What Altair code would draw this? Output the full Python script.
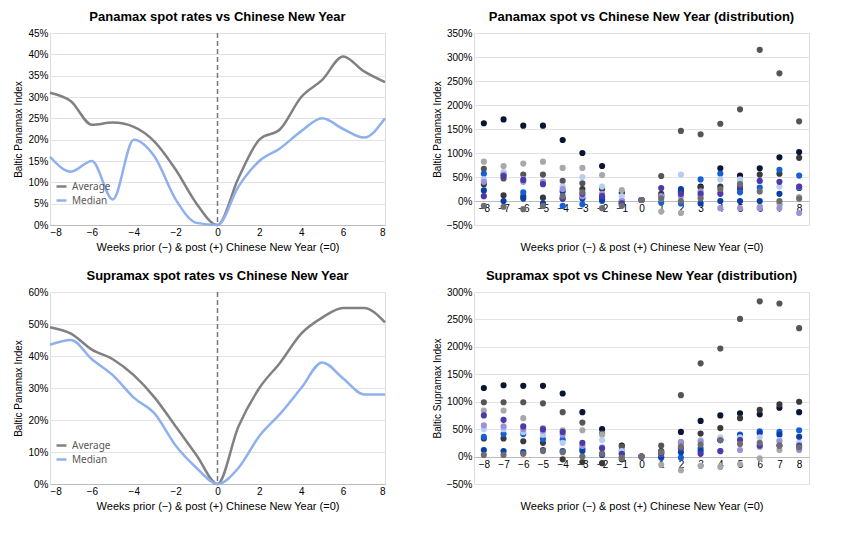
import pandas as pd
import altair as alt

weeks = list(range(-8, 9))

# line charts (percent)
pmx_avg = [31, 29, 23.5, 24, 23, 19.5, 13, 5, 0, 11, 20, 22.5, 30, 34, 39.5, 36, 33.5]
pmx_med = [16, 12.5, 15, 6, 20, 16, 6, 0.5, 0, 9, 15, 18, 22, 25, 22.5, 20.5, 25]
smx_avg = [49, 47, 42, 39, 34, 27, 18, 9, 0, 18, 30, 38, 47, 52, 55, 55, 50.5]
smx_med = [43.5, 45, 39, 34, 27, 22, 12, 5, 0, 5, 15, 22, 30, 38, 33, 28, 28]

# distribution series (percent), one list per year
series_names = ["Y1", "Y2", "Y3", "Y4", "Y5", "Y6", "Y7", "Y8", "Y9", "Y10"]
series_colors = ["#0a1433", "#555559", "#3a3a3d", "#a8a8aa", "#1560d6",
                 "#0b3fa8", "#b8cdf2", "#9b93d6", "#4b3aa8", "#6e6e72"]
pmx_dist = [
    [162, 170, 157, 157, 127, 100, 73, 17, 2, 10, 18, 30, 68, 53, 68, 91, 102],
    [67, 47, 55, 55, 42, 37, 8, -4, 2, 52, 146, 139, 161, 191, 315, 266, 166],
    [35, 12, 10, 7, 5, 25, 25, 0, 2, 15, 20, 28, 30, 25, 55, 57, 90],
    [82, 73, 78, 82, 69, 69, 54, 23, 2, -22, -25, 10, 20, 40, -12, -5, 8],
    [57, 55, 18, -10, -10, -7, 0, -8, 2, -3, -5, 45, 57, 18, 28, 65, 53],
    [22, 0, 5, -5, 20, 5, 3, -5, 2, 10, 25, -5, 0, 0, 0, 15, 27],
    [45, 60, 45, 40, 30, 50, 30, 10, 2, 5, 55, 10, 45, 45, 40, 30, 30],
    [40, 55, 40, 40, 25, 10, 15, 0, 2, 10, 10, 20, -15, -15, -15, -15, -25],
    [10, 52, 44, 35, 5, 15, 10, -5, 2, 27, 15, 15, 15, 30, 42, 40, 30],
    [-10, -12, -17, -10, 10, 18, -15, -10, 2, 5, 0, 5, 25, 35, 20, 0, 5],
]
smx_dist = [
    [125, 130, 129, 129, 115, 81, 50, 20, 0, 8, 45, 65, 75, 79, 77, 89, 81],
    [99, 99, 99, 97, 81, 62, 42, 18, 0, 20, 112, 170, 197, 251, 283, 279, 234],
    [33, 33, 28, 25, -5, -10, -12, -5, 0, 10, 25, 42, 52, 70, 85, 95, 100],
    [84, 84, 70, 52, 48, 48, 40, -2, 0, -15, -25, -17, -19, -14, -3, 12, 15],
    [36, 41, 41, 32, 31, 14, 5, 5, 0, -2, -2, 15, 30, 40, 46, 45, 48],
    [12, 10, 8, 12, 10, 10, 3, 10, 0, 0, 8, 10, 30, 38, 43, 40, 36],
    [50, 50, 45, 40, 25, 20, 30, 10, 0, 5, 20, 30, 35, 35, 35, 30, 25],
    [57, 55, 50, 47, 40, 20, 17, 0, 0, 5, 27, 28, 10, 12, 18, 28, 12],
    [75, 67, 55, 50, 45, 25, 15, 5, 0, 5, 15, 5, 10, 30, 20, 20, 20],
    [3, 3, 5, 10, 8, 0, 5, -2, 0, 8, 18, 22, 30, 23, 25, 20, 17],
]

W, H = 335, 192
TITLE = "#0d1b45"
GREY = "#595959"
FONT = "Noto Sans"
xtitle = "Weeks prior (\u2212) & post (+) Chinese New Year (=0)"


def line_panel(title, avg, med, ymax, step, ylabel):
    df = pd.DataFrame({
        "week": weeks * 2,
        "value": [v / 100 for v in avg + med],
        "series": ["Average"] * 17 + ["Median"] * 17,
    })
    lines = alt.Chart(df).mark_line(interpolate="monotone", strokeWidth=2.5).encode(
        x=alt.X("week:Q", title=xtitle, scale=alt.Scale(domain=[-8, 8], nice=False),
                axis=alt.Axis(values=weeks, grid=False, ticks=False, domainColor="#bbb",
                              labelOverlap=False, titleFontWeight="normal")),
        y=alt.Y("value:Q", title=ylabel, scale=alt.Scale(domain=[0, ymax / 100], nice=False),
                axis=alt.Axis(format=".0%", values=[v / 100 for v in range(0, ymax + 1, step)],
                              domain=False, ticks=False, gridColor="#e3e3e3",
                              titleFontWeight="normal", titleFontSize=10)),
        color=alt.Color("series:N", scale=alt.Scale(domain=["Average", "Median"],
                                                    range=["#808085", "#8fb0ee"]),
                        legend=alt.Legend(title=None, orient="none", legendX=5,
                                          legendY=H - 45, symbolType="stroke",
                                          symbolStrokeWidth=2.5, labelFontSize=10,
                                          labelColor=GREY, labelFont=FONT)),
    )
    zero = alt.Chart(pd.DataFrame({"week": [0]})).mark_rule(
        strokeDash=[5, 3], color="#777", strokeWidth=1.5).encode(x="week:Q")
    return (lines + zero).properties(title=title, width=W, height=H)


def dist_panel(title, dist, ymin, ymax, ylabel):
    rows = []
    for name, vals in zip(series_names, dist):
        for w, v in zip(weeks, vals):
            rows.append({"week": w, "value": v / 100, "series": name})
    df = pd.DataFrame(rows)
    off = -round(H * (0 - ymin) / (ymax - ymin))
    return alt.Chart(df).mark_circle(size=38, opacity=1).encode(
        x=alt.X("week:Q", title=xtitle, scale=alt.Scale(domain=[-8.5, 8.5], nice=False),
                axis=alt.Axis(values=weeks, grid=False, ticks=False, offset=off,
                              domainColor="#bbb", titlePadding=-off + 4,
                              labelOverlap=False, titleFontWeight="normal")),
        y=alt.Y("value:Q", title=ylabel,
                scale=alt.Scale(domain=[ymin / 100, ymax / 100], nice=False),
                axis=alt.Axis(format=".0%", values=[v / 100 for v in range(ymin, ymax + 1, 50)],
                              domain=False, ticks=False, gridColor="#e3e3e3",
                              titleFontWeight="normal", titleFontSize=10)),
        color=alt.Color("series:N", scale=alt.Scale(domain=series_names, range=series_colors),
                        legend=None),
    ).properties(title=title, width=W, height=H)


top = alt.hconcat(
    line_panel("Panamax spot rates vs Chinese New Year", pmx_avg, pmx_med, 45, 5, "Baltic Panamax Index"),
    dist_panel("Panamax spot vs Chinese New Year (distribution)", pmx_dist, -50, 350, "Baltic Panamax Index"),
    spacing=40,
).resolve_scale(color="independent")
bottom = alt.hconcat(
    line_panel("Supramax spot rates vs Chinese New Year", smx_avg, smx_med, 60, 10, "Baltic Panamax Index"),
    dist_panel("Supramax spot vs Chinese New Year (distribution)", smx_dist, -50, 300, "Baltic Supramax Index"),
    spacing=40,
).resolve_scale(color="independent")

chart = alt.vconcat(top, bottom, spacing=16).resolve_scale(color="independent").configure_view(
    stroke=None
).configure_axis(
    labelFont=FONT, titleFont=FONT, labelColor=GREY, titleColor=GREY,
    labelFontSize=10.5, titleFontSize=11,
).configure_title(
    font=FONT, fontSize=16, fontWeight=600, color=TITLE, anchor="middle", offset=6,
).configure(padding={"left": 5, "right": 5, "top": 2, "bottom": 2})

chart.save("out.html", embed_options={"renderer": "svg", "actions": False})
